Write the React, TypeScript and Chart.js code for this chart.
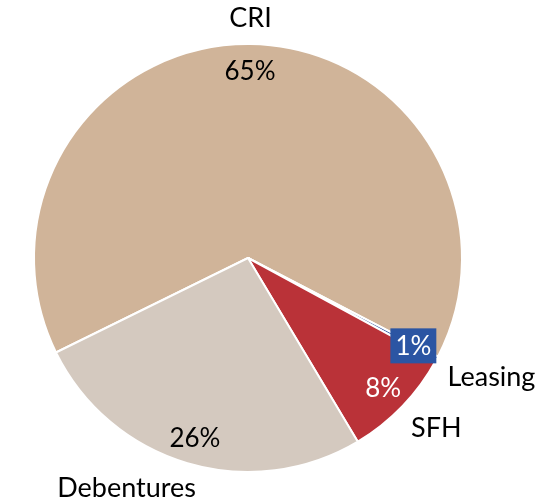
import React, { useEffect, useRef } from "react";
import { Chart, registerables } from "chart.js";

Chart.register(...registerables);

const categories = ["CRI", "Leasing", "SFH", "Debentures"];
const shares = [64.9, 0.3, 8.5, 26.3];
const percentLabels = ["65%", "1%", "8%", "26%"];
const sliceColors = ["#D0B499", "#2B55A3", "#BA3238", "#D4C9BF"];
const percentColors = ["#000000", "#FFFFFF", "#FFFFFF", "#000000"];
const percentBoxes = [false, true, false, false];

const FONT = "Lato, 'Noto Sans', sans-serif";

const labelPlugin = {
  id: "pieLabels",
  afterDatasetsDraw(chart: any) {
    const ctx = chart.ctx;
    const meta = chart.getDatasetMeta(0);
    ctx.save();
    meta.data.forEach((arc: any, i: number) => {
      const p = arc.getProps(["x", "y", "startAngle", "endAngle", "outerRadius"], true);
      const mid = (p.startAngle + p.endAngle) / 2;
      const c = Math.cos(mid);
      const s = Math.sin(mid);
      // inside percent label
      const ri = p.outerRadius * 0.875;
      const ix = p.x + c * ri;
      const iy = p.y + s * ri;
      ctx.font = `26px ${FONT}`;
      ctx.textAlign = "center";
      ctx.textBaseline = "middle";
      if (percentBoxes[i]) {
        const w = ctx.measureText(percentLabels[i]).width + 10;
        const h = 35;
        ctx.fillStyle = sliceColors[i];
        ctx.fillRect(ix - w / 2, iy - h / 2, w, h);
      }
      ctx.fillStyle = percentColors[i];
      ctx.fillText(percentLabels[i], ix, iy + 1);
      // outside category label
      ctx.font = `27px ${FONT}`;
      const ro = p.outerRadius + 12;
      let ox = p.x + c * ro;
      const oy = p.y + s * ro;
      ctx.fillStyle = "#000000";
      ctx.textAlign = c > 0.1 ? "left" : c < -0.1 ? "right" : "center";
      ctx.textBaseline = s > 0.1 ? "top" : s < -0.1 ? "bottom" : "middle";
      if (c < -0.1 && s > 0.9) ox += 12;
      ctx.fillText(categories[i], ox, oy);
    });
    ctx.restore();
  },
};

export default function App() {
  const ref = useRef<HTMLCanvasElement | null>(null);
  useEffect(() => {
    if (!ref.current) return;
    const chart = new Chart(ref.current, {
      type: "pie",
      data: {
        labels: categories,
        datasets: [
          {
            data: shares,
            backgroundColor: sliceColors,
            borderColor: "#FFFFFF",
            borderWidth: 2,
          },
        ],
      },
      options: {
        responsive: false,
        animation: false,
        rotation: 243.8,
        layout: { padding: { left: 33, right: 79, top: 43, bottom: 31 } },
        plugins: {
          legend: { display: false },
          tooltip: { enabled: false },
        },
      },
      plugins: [labelPlugin],
    });
    return () => chart.destroy();
  }, []);
  return (
    <div style={{ position: "absolute", left: 0, top: 0, width: 542, height: 504, background: "#fff" }}>
      <canvas ref={ref} width={542} height={504} />
    </div>
  );
}
